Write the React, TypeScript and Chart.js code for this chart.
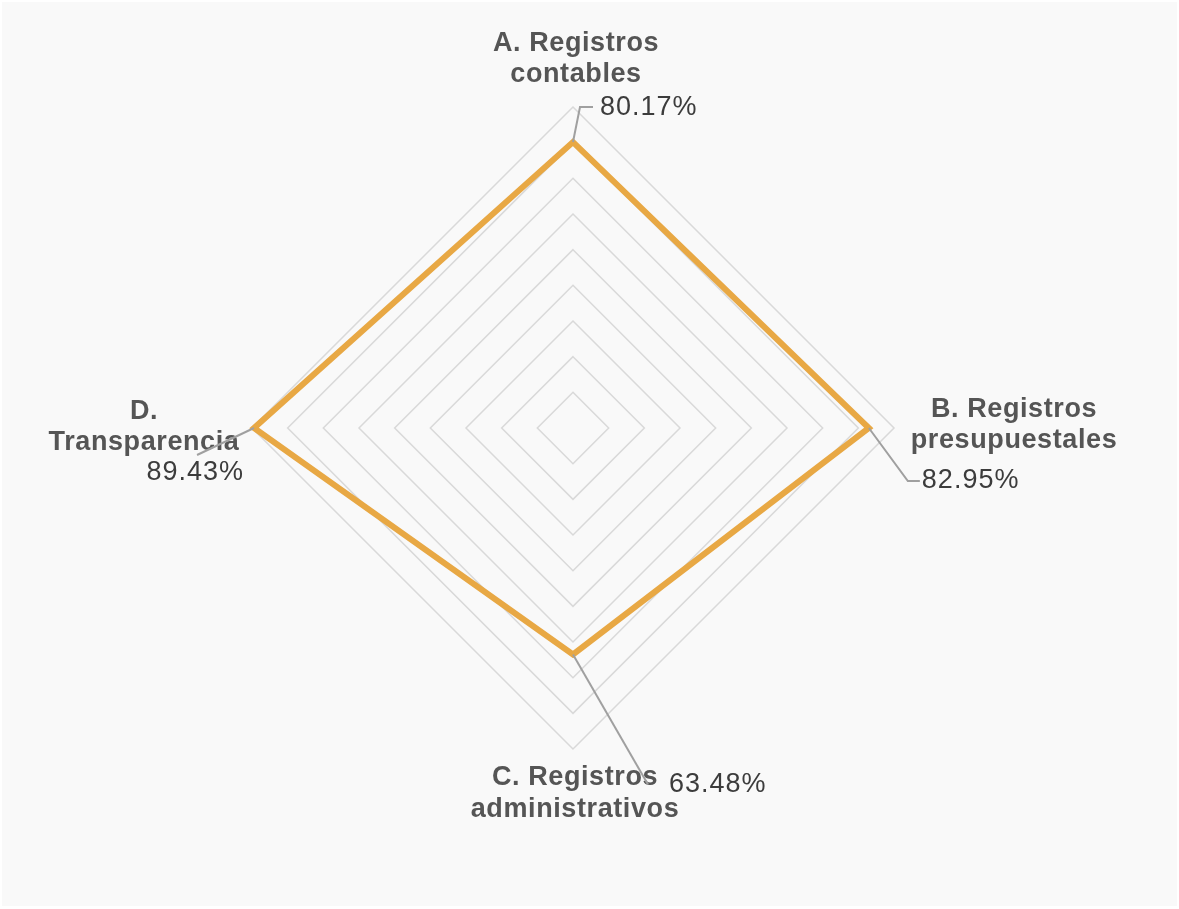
import React, { useEffect, useRef } from "react";
import { Chart, registerables } from "chart.js";

Chart.register(...registerables);

const categories: string[][] = [
  ["A. Registros", "contables"],
  ["B. Registros", "presupuestales"],
  ["C. Registros", "administrativos"],
  ["D.", "Transparencia"],
];
const values: number[] = [80.17, 82.95, 63.48, 89.43];
const valueLabels: string[] = ["80.17%", "82.95%", "63.48%", "89.43%"];
const scaleMax = 90;
const scaleStep = 10;

// layout of the category labels relative to the outer ring vertex
const catLayout = [
  { dx: 3, dy: [-63, -32] },
  { dx: 120, dy: [-18, 13] },
  { dx: 2, dy: [29, 61] },
  { dx: -108, dy: [-16, 15] },
];
// connector + value label layout relative to the data point
const valLayout = [
  { path: [[7, -35], [20, -35]], tx: 27, ty: -35, align: "left" },
  { path: [[39, 53], [51, 53]], tx: 53, ty: 53, align: "left" },
  { path: [[75, 130]], tx: 96, ty: 130, align: "left" },
  { path: [[-57, 27]], tx: -10, ty: 45, align: "right" },
];

const FONT = '"Liberation Sans", Arial, Helvetica, sans-serif';

const bgPlugin = {
  id: "bg",
  beforeDraw(chart: any) {
    const ctx = chart.ctx;
    ctx.save();
    ctx.fillStyle = "#ffffff";
    ctx.fillRect(0, 0, chart.width, chart.height);
    ctx.fillStyle = "#f9f9f9";
    ctx.fillRect(2, 2, chart.width - 4, chart.height - 5);
    ctx.restore();
  },
};

const labelPlugin = {
  id: "labels",
  afterDraw(chart: any) {
    const ctx = chart.ctx;
    const scale = chart.scales.r;
    ctx.save();
    // category labels
    ctx.font = `bold 27px ${FONT}`;
    ctx.fillStyle = "#555555";
    ctx.textAlign = "center";
    ctx.textBaseline = "middle";
    (ctx as any).letterSpacing = "0.6px";
    categories.forEach((lines, i) => {
      const p = scale.getPointPosition(i, scale.drawingArea);
      const l = catLayout[i];
      lines.forEach((t, j) => ctx.fillText(t, p.x + l.dx, p.y + l.dy[j]));
    });
    // connectors
    ctx.strokeStyle = "#a0a0a0";
    ctx.lineWidth = 2;
    values.forEach((v, i) => {
      const p = scale.getPointPosition(i, scale.getDistanceFromCenterForValue(v));
      const l = valLayout[i];
      ctx.beginPath();
      ctx.moveTo(p.x, p.y);
      l.path.forEach(([dx, dy]) => ctx.lineTo(p.x + dx, p.y + dy));
      ctx.stroke();
    });
    // value labels
    ctx.font = `27px ${FONT}`;
    ctx.fillStyle = "#3c3c3c";
    (ctx as any).letterSpacing = "1px";
    values.forEach((v, i) => {
      const p = scale.getPointPosition(i, scale.getDistanceFromCenterForValue(v));
      const l = valLayout[i];
      ctx.textAlign = l.align;
      ctx.fillText(valueLabels[i], p.x + l.tx, p.y + l.ty);
    });
    ctx.restore();
  },
};

export default function App() {
  const ref = useRef<HTMLCanvasElement>(null);
  useEffect(() => {
    document.body.style.margin = "0";
    const chart = new Chart(ref.current!, {
      type: "radar",
      data: {
        labels: categories,
        datasets: [
          {
            data: values,
            borderColor: "#e8a844",
            borderWidth: 6,
            borderJoinStyle: "miter",
            fill: false,
            pointRadius: 0,
            pointHoverRadius: 0,
            tension: 0,
          },
        ],
      },
      options: {
        animation: false,
        responsive: false,
        maintainAspectRatio: false,
        layout: { padding: { left: 100, right: 133, top: 107, bottom: 160 } },
        plugins: { legend: { display: false }, tooltip: { enabled: false } },
        scales: {
          r: {
            min: 0,
            max: scaleMax,
            ticks: { display: false, stepSize: scaleStep },
            pointLabels: { display: false },
            angleLines: { display: false },
            grid: { color: "#d9d9d9", lineWidth: 1.5 },
          },
        },
      },
      plugins: [bgPlugin, labelPlugin],
    });
    return () => chart.destroy();
  }, []);
  return (
    <div style={{ width: 1179, height: 909, background: "#fff" }}>
      <canvas ref={ref} width={1179} height={909} style={{ display: "block" }} />
    </div>
  );
}
